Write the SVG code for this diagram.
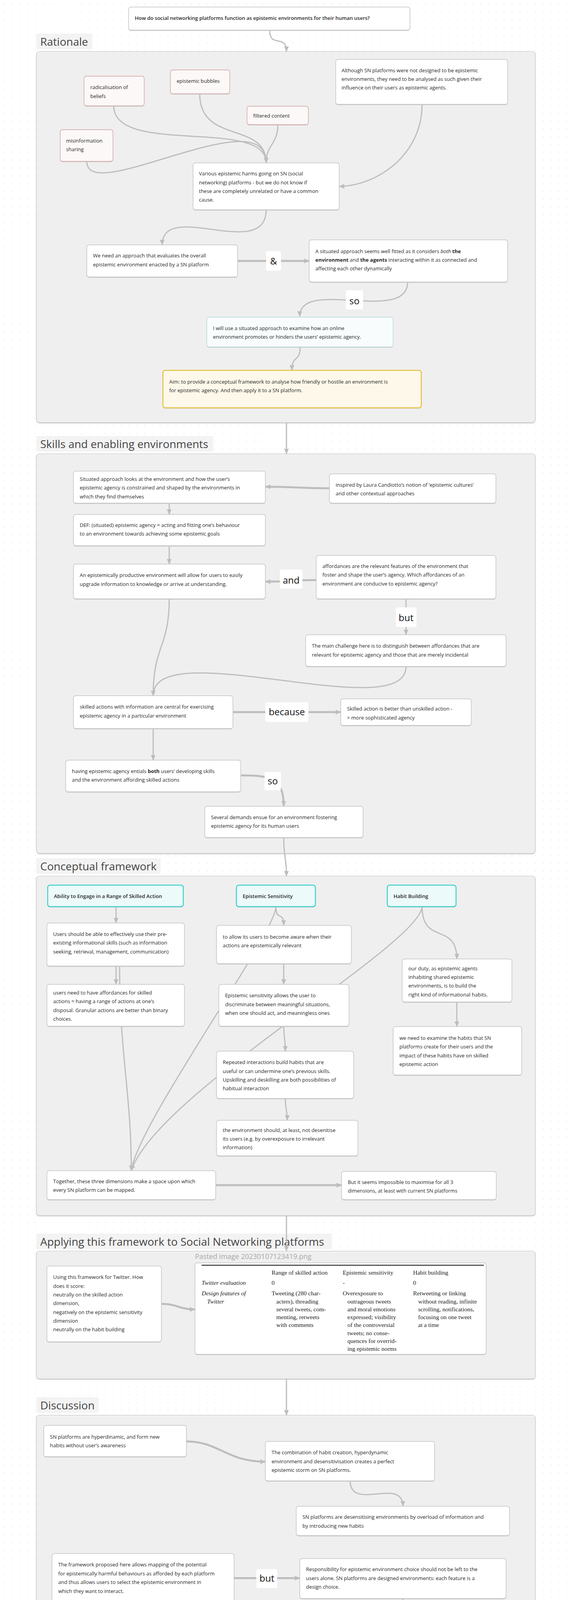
<svg xmlns="http://www.w3.org/2000/svg" width="1456" height="4434" viewBox="0 0 1456 4434">
<defs>
<pattern id="grid" width="20" height="20" patternUnits="userSpaceOnUse"><circle cx="10" cy="10" r="0.9" fill="#d9d9d9"/></pattern>
<marker id="ah" markerWidth="14" markerHeight="12" refX="13" refY="6" orient="auto" markerUnits="userSpaceOnUse"><path d="M0,0 L14,6 L0,12 Z" fill="#bdbdbd"/></marker>
<style>
.frame{fill:#fafafa;fill-opacity:0.75;stroke:#c9c9c9;stroke-width:1.5}
.fsh{fill:#cfcfcf}
.flabel{fill:#f3f3f3}
.ftext{font-family:"Open Sans","Noto Sans",sans-serif;font-size:28px;fill:#444}
.shd{fill:#c8c8c8}
.node{fill:#fff;stroke:#c4c4c4;stroke-width:1.5}
.pink{fill:#fcf8f8;stroke:#dcb2b2;stroke-width:1.8}
.blue{fill:#f8fcfc;stroke:#c0dde2;stroke-width:1.8}
.aim{fill:#fdf8ea;stroke:#e6c03f;stroke-width:2.5}
.head{fill:#ecfafa;stroke:#3fcfcf;stroke-width:2.5}
.t{font-family:"Open Sans","Noto Sans",sans-serif;font-size:13px;fill:#2a2a2a}
.sb{font-weight:600}
.lab{font-family:"Open Sans","Noto Sans",sans-serif;font-size:24px;fill:#111;text-anchor:middle}
.lbox{fill:#fff}
.c{fill:none;stroke:#bdbdbd;stroke-width:3}
.thick{stroke-width:5}
.tb{font-family:"Liberation Serif","Times New Roman",serif;font-size:15.5px;fill:#222}
</style>
</defs>
<rect width="1456" height="4434" fill="#fff"/>
<rect width="1456" height="4434" fill="url(#grid)"/>

<g id="frames">
<rect class="flabel" x="93" y="86" width="143" height="40" rx="4"/>
<text class="ftext" x="103" y="117">Rationale</text>
<rect class="fsh" x="93" y="134" width="1277" height="950" rx="8"/>
<rect class="frame" x="93" y="132" width="1277" height="950" rx="8"/>
<rect class="flabel" x="93" y="1116" width="453" height="40" rx="4"/>
<text class="ftext" x="103" y="1147">Skills and enabling environments</text>
<rect class="fsh" x="93" y="1164" width="1277" height="1023" rx="8"/>
<rect class="frame" x="93" y="1162" width="1277" height="1023" rx="8"/>
<rect class="flabel" x="93" y="2197" width="318" height="40" rx="4"/>
<text class="ftext" x="103" y="2228">Conceptual framework</text>
<rect class="fsh" x="93" y="2245" width="1277" height="869" rx="8"/>
<rect class="frame" x="93" y="2243" width="1277" height="869" rx="8"/>
<rect class="flabel" x="93" y="3158" width="756" height="40" rx="4"/>
<text class="ftext" x="103" y="3189">Applying this framework to Social Networking platforms</text>
<rect class="fsh" x="93" y="3205" width="1277" height="327" rx="8"/>
<rect class="frame" x="93" y="3203" width="1277" height="327" rx="8"/>
<rect class="flabel" x="93" y="3577" width="159" height="40" rx="4"/>
<text class="ftext" x="103" y="3608">Discussion</text>
<rect class="fsh" x="93" y="3625" width="1277" height="805" rx="8"/>
<rect class="frame" x="93" y="3623" width="1277" height="805" rx="8"/>
</g>

<g id="connectors">
<path class="c" d="M690,77 C690,125 733,85 733,132" marker-end="url(#ah)"/>
<path class="c" d="M291,271 C291,400 681,300 681,417" marker-end="url(#ah)"/>
<path class="c" d="M511,240 C511,370 681,310 681,417" marker-end="url(#ah)"/>
<path class="c" d="M711,319 C711,370 681,370 681,417" marker-end="url(#ah)"/>
<path class="c" d="M222,413 C222,530 681,250 681,417" marker-end="url(#ah)"/>
<path class="c" d="M1080,267 C1080,400 960,477 868,477" marker-end="url(#ah)"/>
<path class="c" d="M681,537 C681,670 415,510 415,627" marker-end="url(#ah)"/>
<path class="c thick" d="M608,668 L791,668" marker-end="url(#ah)"/>
<path class="c" d="M1043,722 C1043,830 767,710 767,810" marker-end="url(#ah)"/>
<path class="c" d="M768,888 C768,930 747,906 747,948" marker-end="url(#ah)"/>
<path class="c" d="M733,1082 L733,1162" marker-end="url(#ah)"/>
<path class="c thick" d="M843,1250 C761,1250 761,1246 679,1246" marker-end="url(#ah)"/>
<path class="c" d="M433,1288 L433,1317" marker-end="url(#ah)"/>
<path class="c" d="M433,1397 L433,1444" marker-end="url(#ah)"/>
<path class="c thick" d="M809,1485 C745,1485 745,1489 679,1489" marker-end="url(#ah)"/>
<path class="c" d="M1039,1533 L1039,1625" marker-end="url(#ah)"/>
<path class="c" d="M433,1533 C433,1660 392,1650 392,1781" marker-end="url(#ah)"/>
<path class="c" d="M1039,1706 C1039,1860 392,1620 392,1781" marker-end="url(#ah)"/>
<path class="c thick" d="M596,1823 L872,1823" marker-end="url(#ah)"/>
<path class="c" d="M392,1865 L392,1946" marker-end="url(#ah)"/>
<path class="c thick" d="M616,1985 C690,1985 726,1990 726,2064" marker-end="url(#ah)"/>
<path class="c" d="M726,2144 C726,2200 733,2190 733,2243" marker-end="url(#ah)"/>
<path class="c" d="M297,2321 L297,2363" marker-end="url(#ah)"/>
<path class="c" d="M706,2321 C706,2360 726,2330 726,2369" marker-end="url(#ah)"/>
<path class="c" d="M1080,2321 C1080,2420 1169,2360 1169,2455" marker-end="url(#ah)"/>
<path class="c" d="M297,2473 L297,2520" marker-end="url(#ah)"/>
<path class="c" d="M306,2473 C306,2700 336,2800 336,2997" marker-end="url(#ah)"/>
<path class="c" d="M706,2321 C706,2390 350,2880 336,2997" marker-end="url(#ah)"/>
<path class="c" d="M1080,2321 C1075,2420 400,2800 336,2997" marker-end="url(#ah)"/>
<path class="c" d="M726,2467 L726,2520" marker-end="url(#ah)"/>
<path class="c" d="M1169,2565 L1169,2628" marker-end="url(#ah)"/>
<path class="c" d="M726,2627 C726,2660 730,2655 730,2691" marker-end="url(#ah)"/>
<path class="c" d="M730,2812 C730,2840 735,2840 735,2868" marker-end="url(#ah)"/>
<path class="c thick" d="M552,3034 L874,3034" marker-end="url(#ah)"/>
<path class="c" d="M733,3112 L733,3203" marker-end="url(#ah)"/>
<path class="c thick" d="M413,3338 C456,3338 456,3352 499,3352" marker-end="url(#ah)"/>
<path class="c" d="M733,3530 L733,3623" marker-end="url(#ah)"/>
<path class="c thick" d="M477,3690 C560,3690 580,3742 679,3742" marker-end="url(#ah)"/>
<path class="c" d="M896,3791 C896,3870 1031,3780 1031,3856" marker-end="url(#ah)"/>
<path class="c thick" d="M599,4040 L767,4040" marker-end="url(#ah)"/>
<path class="c" d="M1031,4092 C1031,4140 979,4110 979,4159" marker-end="url(#ah)"/>
<path class="c" d="M979,4275 L979,4324" marker-end="url(#ah)"/>
<rect class="lbox" x="681" y="643" width="38" height="50" rx="4"/><text class="lab" x="700" y="677">&amp;</text>
<rect class="lbox" x="885" y="743" width="44" height="49" rx="4"/><text class="lab" x="907" y="779">so</text>
<rect class="lbox" x="716" y="1458" width="58" height="49" rx="4"/><text class="lab" x="745" y="1494">and</text>
<rect class="lbox" x="1013" y="1555" width="53" height="50" rx="4"/><text class="lab" x="1039" y="1590">but</text>
<rect class="lbox" x="679" y="1798" width="110" height="50" rx="4"/><text class="lab" x="734" y="1831">because</text>
<rect class="lbox" x="677" y="1976" width="42" height="47" rx="4"/><text class="lab" x="698" y="2008">so</text>
<rect class="lbox" x="656" y="4017" width="53" height="48" rx="4"/><text class="lab" x="683" y="4049">but</text>
</g>

<g id="n-question"><rect class="shd" x="329" y="20" width="720" height="59" rx="6"/><rect class="node" x="329" y="18" width="720" height="59" rx="6"/><text class="t sb" x="345" y="51">How do social networking platforms function as epistemic environments for their human users?</text></g>

<g id="n-although"><rect class="shd" x="859" y="154" width="440" height="115" rx="6"/><rect class="node" x="859" y="152" width="440" height="115" rx="6"/><text class="t"><tspan x="874" y="185">Although SN platforms were not designed to be epistemic</tspan><tspan x="874" y="207">environments, they need to be analysed as such given their</tspan><tspan x="874" y="229">influence on their users as epistemic agents.</tspan></text></g>
<g id="n-radical"><rect class="shd" x="215" y="197" width="154" height="76" rx="6"/><rect class="pink" x="215" y="195" width="154" height="76" rx="6"/><text class="t"><tspan x="231" y="228">radicalisation of</tspan><tspan x="231" y="251">beliefs</tspan></text></g>
<g id="n-bubbles"><rect class="shd" x="436" y="181" width="152" height="61" rx="6"/><rect class="pink" x="436" y="179" width="152" height="61" rx="6"/><text class="t" x="452" y="212">epistemic bubbles</text></g>
<g id="n-filtered"><rect class="shd" x="632" y="274" width="157" height="47" rx="6"/><rect class="pink" x="632" y="272" width="157" height="47" rx="6"/><text class="t" x="648" y="301">filtered content</text></g>
<g id="n-misinfo"><rect class="shd" x="154" y="334" width="135" height="81" rx="6"/><rect class="pink" x="154" y="332" width="135" height="81" rx="6"/><text class="t"><tspan x="169" y="365">misinformation</tspan><tspan x="169" y="387">sharing</tspan></text></g>
<g id="n-various"><rect class="shd" x="494" y="419" width="374" height="120" rx="6"/><rect class="node" x="494" y="417" width="374" height="120" rx="6"/><text class="t"><tspan x="509" y="449">Various epistemic harms going on SN (social</tspan><tspan x="509" y="472">networking) platforms - but we do not know if</tspan><tspan x="509" y="494">these are completely unrelated or have a common</tspan><tspan x="509" y="516">cause.</tspan></text></g>
<g id="n-weneed"><rect class="shd" x="222" y="629" width="386" height="82" rx="6"/><rect class="node" x="222" y="627" width="386" height="82" rx="6"/><text class="t"><tspan x="238" y="659">We need an approach that evaluates the overall</tspan><tspan x="238" y="682">epistemic environment enacted by a SN platform</tspan></text></g>
<g id="n-situated1"><rect class="shd" x="791" y="616" width="508" height="108" rx="6"/><rect class="node" x="791" y="614" width="508" height="108" rx="6"/><text class="t"><tspan x="807" y="648">A situated approach seems well fitted as it considers <tspan font-style="italic">both</tspan> <tspan font-weight="bold">the</tspan></tspan><tspan x="807" y="670"><tspan font-weight="bold">environment</tspan> and <tspan font-weight="bold">the agents</tspan> interacting within it as connected and</tspan><tspan x="807" y="692">affecting each other dynamically</tspan></text></g>
<g id="n-iwill"><rect class="shd" x="529" y="814" width="477" height="76" rx="6"/><rect class="blue" x="529" y="812" width="477" height="76" rx="6"/><text class="t"><tspan x="545" y="845">I will use a situated approach to examine how an online</tspan><tspan x="545" y="867">environment promotes or hinders the users’ epistemic agency.</tspan></text></g>
<g id="n-aim"><rect class="shd" x="417" y="950" width="661" height="96" rx="6"/><rect class="aim" x="417" y="948" width="661" height="96" rx="6"/><text class="t"><tspan x="433" y="982">Aim: to provide a conceptual framework to analyse how friendly or hostile an environment is</tspan><tspan x="433" y="1004">for epistemic agency. And then apply it to a SN platform.</tspan></text></g>

<g id="n-situated2"><rect class="shd" x="188" y="1208" width="491" height="82" rx="6"/><rect class="node" x="188" y="1206" width="491" height="82" rx="6"/><text class="t"><tspan x="204" y="1231">Situated approach looks at the environment and how the user’s</tspan><tspan x="204" y="1253">epistemic agency is constrained and shaped by the environments in</tspan><tspan x="204" y="1276">which they find themselves</tspan></text></g>
<g id="n-inspired"><rect class="shd" x="843" y="1215" width="426" height="75" rx="6"/><rect class="node" x="843" y="1213" width="426" height="75" rx="6"/><text class="t"><tspan x="859" y="1246">inspired by Laura Candiotto’s notion of ‘epistemic cultures’</tspan><tspan x="859" y="1268">and other contextual approaches</tspan></text></g>
<g id="n-def"><rect class="shd" x="188" y="1319" width="491" height="80" rx="6"/><rect class="node" x="188" y="1317" width="491" height="80" rx="6"/><text class="t"><tspan x="204" y="1349">DEF: (situated) epistemic agency = acting and fitting one’s behaviour</tspan><tspan x="204" y="1371">to an environment towards achieving some epistemic goals</tspan></text></g>
<g id="n-productive"><rect class="shd" x="188" y="1446" width="491" height="89" rx="6"/><rect class="node" x="188" y="1444" width="491" height="89" rx="6"/><text class="t"><tspan x="204" y="1477">An epistemically productive environment will allow for users to easily</tspan><tspan x="204" y="1500">upgrade information to knowledge or arrive at understanding.</tspan></text></g>
<g id="n-affordances"><rect class="shd" x="809" y="1424" width="460" height="111" rx="6"/><rect class="node" x="809" y="1422" width="460" height="111" rx="6"/><text class="t"><tspan x="825" y="1454">affordances are the relevant features of the environment that</tspan><tspan x="825" y="1476">foster and shape the user’s agency. Which affordances of an</tspan><tspan x="825" y="1499">environment are conducive to epistemic agency?</tspan></text></g>
<g id="n-challenge"><rect class="shd" x="782" y="1627" width="513" height="81" rx="6"/><rect class="node" x="782" y="1625" width="513" height="81" rx="6"/><text class="t"><tspan x="798" y="1658">The main challenge here is to distinguish between affordances that are</tspan><tspan x="798" y="1681">relevant for epistemic agency and those that are merely incidental</tspan></text></g>
<g id="n-skilled"><rect class="shd" x="188" y="1783" width="408" height="84" rx="6"/><rect class="node" x="188" y="1781" width="408" height="84" rx="6"/><text class="t"><tspan x="204" y="1814">skilled actions with information are central for exercising</tspan><tspan x="204" y="1837">epistemic agency in a particular environment</tspan></text></g>
<g id="n-better"><rect class="shd" x="872" y="1791" width="334" height="68" rx="6"/><rect class="node" x="872" y="1789" width="334" height="68" rx="6"/><text class="t"><tspan x="888" y="1819">Skilled action is better than unskilled action -</tspan><tspan x="888" y="1842">&gt; more sophisticated agency</tspan></text></g>
<g id="n-having"><rect class="shd" x="168" y="1948" width="448" height="81" rx="6"/><rect class="node" x="168" y="1946" width="448" height="81" rx="6"/><text class="t"><tspan x="184" y="1979">having epistemic agency entials <tspan font-weight="bold">both</tspan> users’ developing skills</tspan><tspan x="184" y="2001">and the environment affording skilled actions</tspan></text></g>
<g id="n-several"><rect class="shd" x="524" y="2066" width="405" height="80" rx="6"/><rect class="node" x="524" y="2064" width="405" height="80" rx="6"/><text class="t"><tspan x="540" y="2097">Several demands ensue for an environment fostering</tspan><tspan x="540" y="2119">epistemic agency for its human users</tspan></text></g>

<g id="n-ability"><rect class="shd" x="122" y="2268" width="347" height="55" rx="6"/><rect class="head" x="122" y="2266" width="347" height="55" rx="6"/><text class="t sb" x="138" y="2299">Ability to Engage in a Range of Skilled Action</text></g>
<g id="n-sensitivity"><rect class="shd" x="605" y="2268" width="202" height="55" rx="6"/><rect class="head" x="605" y="2266" width="202" height="55" rx="6"/><text class="t sb" x="621" y="2299">Epistemic Sensitivity</text></g>
<g id="n-habit"><rect class="shd" x="991" y="2268" width="176" height="55" rx="6"/><rect class="head" x="991" y="2266" width="176" height="55" rx="6"/><text class="t sb" x="1007" y="2299">Habit Building</text></g>
<g id="n-users"><rect class="shd" x="120" y="2365" width="352" height="110" rx="6"/><rect class="node" x="120" y="2363" width="352" height="110" rx="6"/><text class="t"><tspan x="136" y="2396">Users should be able to effectively use their pre-</tspan><tspan x="136" y="2418">existing informational skills (such as information</tspan><tspan x="136" y="2441">seeking, retrieval, management, communication)</tspan></text></g>
<g id="n-toallow"><rect class="shd" x="554" y="2371" width="345" height="98" rx="6"/><rect class="node" x="554" y="2369" width="345" height="98" rx="6"/><text class="t"><tspan x="570" y="2403">to allow its users to become aware when their</tspan><tspan x="570" y="2425">actions are epistemically relevant</tspan></text></g>
<g id="n-esallows"><rect class="shd" x="560" y="2522" width="333" height="107" rx="6"/><rect class="node" x="560" y="2520" width="333" height="107" rx="6"/><text class="t"><tspan x="576" y="2553">Epistemic sensitivity allows the user to</tspan><tspan x="576" y="2576">discriminate between meaningful situations,</tspan><tspan x="576" y="2598">when one should act, and meaningless ones</tspan></text></g>
<g id="n-usersneed"><rect class="shd" x="120" y="2522" width="352" height="107" rx="6"/><rect class="node" x="120" y="2520" width="352" height="107" rx="6"/><text class="t"><tspan x="136" y="2546">users need to have affordances for skilled</tspan><tspan x="136" y="2568">actions = having a range of actions at one’s</tspan><tspan x="136" y="2591">disposal. Granular actions are better than binary</tspan><tspan x="136" y="2613">choices.</tspan></text></g>
<g id="n-duty"><rect class="shd" x="1029" y="2457" width="281" height="110" rx="6"/><rect class="node" x="1029" y="2455" width="281" height="110" rx="6"/><text class="t"><tspan x="1045" y="2484">our duty, as epistemic agents</tspan><tspan x="1045" y="2506">inhabiting shared epistemic</tspan><tspan x="1045" y="2528">environments, is to build the</tspan><tspan x="1045" y="2551">right kind of informational habits.</tspan></text></g>
<g id="n-examine"><rect class="shd" x="1006" y="2630" width="329" height="124" rx="6"/><rect class="node" x="1006" y="2628" width="329" height="124" rx="6"/><text class="t"><tspan x="1022" y="2662">we need to examine the habits that SN</tspan><tspan x="1022" y="2684">platforms create for their users and the</tspan><tspan x="1022" y="2707">impact of these habits have on skilled</tspan><tspan x="1022" y="2729">epistemic action</tspan></text></g>
<g id="n-repeated"><rect class="shd" x="554" y="2693" width="351" height="121" rx="6"/><rect class="node" x="554" y="2691" width="351" height="121" rx="6"/><text class="t"><tspan x="570" y="2724">Repeated interactions build habits that are</tspan><tspan x="570" y="2747">useful or can undermine one’s previous skills.</tspan><tspan x="570" y="2769">Upskilling and deskilling are both possibilities of</tspan><tspan x="570" y="2791">habitual interaction</tspan></text></g>
<g id="n-envshould"><rect class="shd" x="554" y="2870" width="362" height="91" rx="6"/><rect class="node" x="554" y="2868" width="362" height="91" rx="6"/><text class="t"><tspan x="570" y="2898">the environment should, at least, not desenitise</tspan><tspan x="570" y="2920">its users (e.g. by overexposure to irrelevant</tspan><tspan x="570" y="2942">information)</tspan></text></g>
<g id="n-together"><rect class="shd" x="120" y="2999" width="432" height="74" rx="6"/><rect class="node" x="120" y="2997" width="432" height="74" rx="6"/><text class="t"><tspan x="136" y="3029">Together, these three dimensions make a space upon which</tspan><tspan x="136" y="3051">every SN platform can be mapped.</tspan></text></g>
<g id="n-impossible"><rect class="shd" x="874" y="3001" width="396" height="72" rx="6"/><rect class="node" x="874" y="2999" width="396" height="72" rx="6"/><text class="t"><tspan x="890" y="3031">But it seems impossible to maximise for all 3</tspan><tspan x="890" y="3053">dimensions, at least with current SN platforms</tspan></text></g>

<g id="n-using"><rect class="shd" x="120" y="3243" width="293" height="194" rx="6"/><rect class="node" x="120" y="3241" width="293" height="194" rx="6"/><text class="t"><tspan x="136" y="3274">Using this framework for Twitter. How</tspan><tspan x="136" y="3297">does it score:</tspan><tspan x="136" y="3319">neutrally on the skilled action</tspan><tspan x="136" y="3341">dimension,</tspan><tspan x="136" y="3364">negatively on the epistemic sensitivity</tspan><tspan x="136" y="3386">dimension</tspan><tspan x="136" y="3408">neutrally on the habit building</tspan></text></g>
<g id="n-image">
<text x="499" y="3223" font-family="Open Sans, Noto Sans, sans-serif" font-size="18" fill="#a8a8a8">Pasted image 20230107123419.png</text>
<rect class="shd" x="499" y="3235" width="745" height="234" rx="6"/>
<rect class="node" x="499" y="3233" width="745" height="234" rx="6"/>
<line x1="516" y1="3239" x2="1238" y2="3239" stroke="#333" stroke-width="2.5"/>
<text class="tb"><tspan x="695" y="3263">Range of skilled action</tspan><tspan x="877" y="3263">Epistemic sensitivity</tspan><tspan x="1057" y="3263">Habit building</tspan></text>
<text class="tb"><tspan x="516" y="3289" font-style="italic">Twitter evaluation</tspan><tspan x="695" y="3289">0</tspan><tspan x="877" y="3289">-</tspan><tspan x="1057" y="3289">0</tspan></text>
<text class="tb" font-style="italic"><tspan x="516" y="3316">Design features of</tspan><tspan x="530" y="3337">Twitter</tspan></text>
<text class="tb"><tspan x="695" y="3316">Tweeting (280 char-</tspan><tspan x="707" y="3337">acters), threading</tspan><tspan x="707" y="3357">several tweets, com-</tspan><tspan x="707" y="3377">menting, retweets</tspan><tspan x="707" y="3397">with comments</tspan></text>
<text class="tb"><tspan x="877" y="3316">Overexposure to</tspan><tspan x="889" y="3337">outrageous tweets</tspan><tspan x="889" y="3357">and moral emotions</tspan><tspan x="889" y="3377">expressed; visibility</tspan><tspan x="889" y="3397">of the controversial</tspan><tspan x="889" y="3418">tweets; no conse-</tspan><tspan x="889" y="3438">quences for overrid-</tspan><tspan x="889" y="3458">ing epistemic norms</tspan></text>
<text class="tb"><tspan x="1057" y="3316">Retweeting or linking</tspan><tspan x="1070" y="3337">without reading, infinite</tspan><tspan x="1070" y="3357">scrolling, notifications,</tspan><tspan x="1070" y="3377">focusing on one tweet</tspan><tspan x="1070" y="3397">at a time</tspan></text>
</g>

<g id="n-hyper"><rect class="shd" x="112" y="3651" width="365" height="80" rx="6"/><rect class="node" x="112" y="3649" width="365" height="80" rx="6"/><text class="t"><tspan x="128" y="3683">SN platforms are hyperdinamic, and form new</tspan><tspan x="128" y="3705">habits without user’s awareness</tspan></text></g>
<g id="n-combination"><rect class="shd" x="679" y="3692" width="433" height="101" rx="6"/><rect class="node" x="679" y="3690" width="433" height="101" rx="6"/><text class="t"><tspan x="695" y="3723">The combination of habit creation, hyperdynamic</tspan><tspan x="695" y="3746">environment and desensitivisation creates a perfect</tspan><tspan x="695" y="3768">epistemic storm on SN platforms.</tspan></text></g>
<g id="n-desens"><rect class="shd" x="758" y="3858" width="546" height="75" rx="6"/><rect class="node" x="758" y="3856" width="546" height="75" rx="6"/><text class="t"><tspan x="774" y="3888">SN platforms are desensitising environments by overload of information and</tspan><tspan x="774" y="3911">by introducing new habits</tspan></text></g>
<g id="n-framework"><rect class="shd" x="133" y="3979" width="466" height="126" rx="6"/><rect class="node" x="133" y="3977" width="466" height="126" rx="6"/><text class="t"><tspan x="149" y="4010">The framework proposed here allows mapping of the potential</tspan><tspan x="149" y="4033">for epistemically harmful behaviours as afforded by each platform</tspan><tspan x="149" y="4055">and thus allows users to select the epistemic environment in</tspan><tspan x="149" y="4078">which they want to interact.</tspan></text></g>
<g id="n-responsibility"><rect class="shd" x="767" y="3992" width="528" height="102" rx="6"/><rect class="node" x="767" y="3990" width="528" height="102" rx="6"/><text class="t"><tspan x="783" y="4022">Responsibility for epistemic environment choice should not be left to the</tspan><tspan x="783" y="4045">users alone. SN platforms are designed environments: each feature is a</tspan><tspan x="783" y="4067">design choice.</tspan></text></g>
<g id="n-incentives"><rect class="shd" x="655" y="4161" width="649" height="116" rx="6"/><rect class="node" x="655" y="4159" width="649" height="116" rx="6"/><text class="t"><tspan x="671" y="4192">There are strong incentives—financial and political—for keeping the social media platforms</tspan><tspan x="671" y="4214">working as addiction machines and captivators of attention through persuasive design, hence</tspan><tspan x="671" y="4237">minimising user’s epistemic agency.</tspan></text></g>
<g id="n-politics"><rect class="shd" x="655" y="4326" width="649" height="75" rx="6"/><rect class="node" x="655" y="4324" width="649" height="75" rx="6"/><text class="t"><tspan x="671" y="4357">The politics of SN platforms regulation =&gt; is another important discussion. A meaningful one,</tspan><tspan x="671" y="4379">but not within the scope of this paper.</tspan></text></g>
</svg>
